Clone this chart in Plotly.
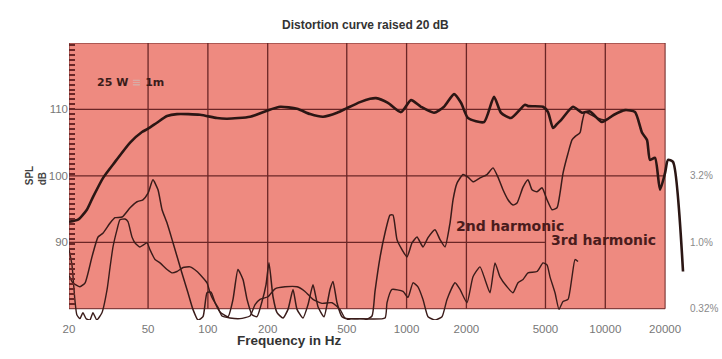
import math
import numpy as np
import plotly.graph_objects as go

# ---------------- data ----------------
main_freq = [20, 22.2, 24.6, 26.4, 29.7, 34.1, 40.6, 46.6, 50, 55.4, 62.3, 69.9, 91.3, 111, 125,
             163, 198, 231, 281, 327, 380, 447, 501, 583, 655, 702, 806, 937, 1053, 1182,
             1374, 1543, 1733, 1879, 2038, 2453, 2754, 2986, 3353, 3945, 4084, 4860, 5150,
             5457, 5716, 5988, 6880, 7637, 8378, 9623, 11064, 12572, 14114, 15309, 16217,
             16794, 17794, 18853, 19977, 20683, 21915, 24617]
main_db = [93.1, 93.4, 94.9, 96.8, 99.7, 102.1, 105.0, 106.6, 107.1, 108.0, 109.0, 109.3, 109.2,
           108.7, 108.6, 108.9, 109.8, 110.4, 110.1, 109.3, 108.9, 109.5, 110.2, 111.1, 111.6,
           111.7, 111.0, 109.6, 111.4, 110.4, 109.5, 110.4, 112.3, 111.0, 108.7, 108.1, 111.9,
           109.5, 108.7, 110.7, 110.5, 110.4, 109.6, 107.2, 107.8, 108.4, 110.4, 109.5, 109.7,
           108.1, 109.2, 109.9, 109.6, 106.5, 105.4, 102.4, 102.7, 97.9, 100.4, 102.4, 102.1, 85.6]

h2_freq = [20, 20.9, 22.7, 24.1, 26.1, 28.0, 29.7, 32.2, 34.1, 37.0, 40.6, 44.0, 47.1, 50.0,
           52.9, 56.1, 58.8, 62.3, 66.8, 70.7, 75.0, 79.4, 84.1, 89.2, 94.5, 99.0, 103.7, 108.6,
           115.1, 126.3, 133.8, 141.7, 150.2, 157.4, 166.8, 176.7, 187.3, 196.1, 203.0, 212.7,
           222.8, 238.8, 253.1, 268.2, 280.9, 301.1, 319.0, 338.1, 358.2, 384.1, 411.7, 426.3,
           446.5, 473.1, 519.1, 617.6, 669.8, 693.5, 734.9, 778.7, 825, 854.3, 894.8, 948.3,
           1004.9, 1064.9, 1128.4, 1209.5, 1281.6, 1390.1, 1473.0, 1561.2, 1654.4, 1712.9,
           1794.0, 1923.3, 2037.5, 2158.9, 2341.6, 2539.5, 2722.2, 2884.2, 3056.3, 3238.7,
           3432.1, 3595.2, 3854.7, 4084.4, 4277.8, 4533.1, 4803.7, 5090.0, 5393.9, 5716.1,
           5918.5, 6128.0, 6493.7, 6800.5, 7041.6, 7461.6, 7636.6, 7906.8, 9082.8, 9964.0, 10810]
h2_db = [85.0, 83.9, 83.3, 83.9, 87.8, 90.8, 91.4, 92.9, 93.7, 93.8, 95.2, 96.1, 96.4, 97.4,
         99.4, 97.9, 94.9, 92.9, 89.9, 87.4, 84.8, 82.4, 79.9, 78.3, 78.8, 82.4, 82.5, 80.9,
         79.5, 78.8, 81.4, 85.9, 84.4, 81.4, 79.1, 78.8, 81.1, 83.6, 86.9, 81.8,
         79.4, 78.6, 79.9, 82.9, 79.9, 78.6, 80.6, 83.6, 80.3, 78.8, 82.9, 84.1,
         80.9, 78.8, 78.3, 78.3, 78.9, 82.6, 87.7, 91.4, 94.1, 94.1, 90.4, 88.9,
         87.8, 89.9, 90.8, 89.3, 90.7, 91.9, 90.4, 89.3, 92.9, 96.4,
         98.9, 100.2, 99.8, 99.1, 99.7, 100.2, 101.2, 99.8, 97.9, 96.4,
         95.6, 95.9, 98.3, 99.4, 97.9, 97.6, 98.2, 96.4, 94.9, 95.2,
         97.4, 100.4, 103.4, 105.4, 105.9, 106.5, 108.0, 109.6, 108.7, 108.4, 109.0]

h3_freq = [20, 20.7, 21.4, 21.9, 22.7, 23.5, 24.4, 25.5, 26.4, 27.6, 29.3, 31.1, 32.2, 33.3,
           34.9, 36.1, 38.3, 39.6, 41.5, 43.0, 45.5, 49.4, 51.1, 54.2, 57.4, 62.3, 66.0, 69.9,
           75.0, 81.3, 88.2, 99.0, 102.5, 106.1, 112.4, 117.8, 129.2, 145.1, 162.9, 172.7,
           183.0, 200.7, 217.7, 244.4, 280.9, 308.1, 338.1, 375.3, 421.3, 462.3, 489.8, 582.8,
           778.7, 797, 844.5, 959.3, 1016.6, 1077.3, 1141, 1209.5, 1281.6, 1390.1, 1507.8,
           1597.9, 1752.9, 1857, 2014.0, 2158.9, 2341.6, 2481.1, 2629.2, 2785.6, 2951.8,
           3201.2, 3432.1, 3637.3, 3854.7, 4084.4, 4533.1, 4859.7, 5090.0, 5269.9, 5584.9,
           5850.2, 6128.0, 6493.7, 6800.5, 7041.6, 7290.7]
h3_db = [88.9, 86.6, 81.4, 79.1, 78.5, 79.4, 78.5, 78.3, 79.4, 78.3, 79.4, 82.9, 86.3, 89.3,
         91.9, 93.4, 93.5, 93.1, 90.8, 89.9, 89.3, 89.9, 88.9, 87.4, 86.9, 85.9, 85.4, 85.6,
         86.2, 86.3, 85.6, 83.9, 82.4, 81.4, 80.2, 78.9, 78.6, 78.5, 78.9, 80.6,
         81.4, 81.8, 83.0, 83.3, 83.3, 82.6, 81.4, 80.8, 80.9, 79.9, 78.6, 78.5,
         78.6, 80.9, 82.9, 82.6, 81.7, 83.9, 83.3, 81.4, 78.8, 78.3, 78.8,
         81.4, 83.9, 82.9, 80.9, 84.8, 86.3, 84.4, 82.4, 86.9, 84.8,
         83.3, 82.4, 83.9, 84.4, 85.4, 85.6, 86.9, 86.6, 84.8, 82.4,
         79.9, 81.1, 81.4, 84.8, 87.4, 87.1]

x_ticks = [20, 50, 100, 200, 500, 1000, 2000, 5000, 10000, 20000]
x_ticktext = ["20", "50", "100", "200", "500", "1000", "2000", "5000", "10000", "20000"]
y_ticks = [90, 100, 110]
pct_labels = ["3.2%", "1.0%", "0.32%"]
pct_levels = [100, 90, 80]

# chart frame (background panel limits)
f_lo, f_hi = 20, 20000
db_lo, db_hi = 80, 120

# ---------------- styling ----------------
PINK = "#EE8A80"
GRID = "#6a2626"
CURVE = "#2b1614"
FONT = "Liberation Sans"

fig = go.Figure()

# pink panel
fig.add_trace(go.Scatter(x=[f_lo, f_hi, f_hi, f_lo, f_lo], y=[db_lo, db_lo, db_hi, db_hi, db_lo],
                         mode="lines", fill="toself", fillcolor=PINK,
                         line=dict(color=GRID, width=1), hoverinfo="skip", showlegend=False))
# grid lines
gx, gy = [], []
for v in x_ticks[1:-1]:
    gx += [v, v, None]
    gy += [db_lo, db_hi, None]
for v in [100, 110]:
    gx += [f_lo, f_hi, None]
    gy += [v, v, None]
gx += [f_lo, 5000, None]
gy += [90, 90, None]
fig.add_trace(go.Scatter(x=gx, y=gy, mode="lines", line=dict(color=GRID, width=1.3),
                         hoverinfo="skip", showlegend=False, connectgaps=False))

fig.add_trace(go.Scatter(x=h3_freq, y=h3_db, mode="lines",
                         line=dict(color="#3a1c1a", width=1.4, shape="spline", smoothing=0.5),
                         hoverinfo="skip", showlegend=False))
fig.add_trace(go.Scatter(x=h2_freq, y=h2_db, mode="lines",
                         line=dict(color="#3a1c1a", width=1.5, shape="spline", smoothing=0.5),
                         hoverinfo="skip", showlegend=False))
fig.add_trace(go.Scatter(x=main_freq, y=main_db, mode="lines",
                         line=dict(color=CURVE, width=2.6, shape="spline", smoothing=0.6),
                         hoverinfo="skip", showlegend=False))

lx0 = math.log10(f_lo)

annotations = [
    dict(text="<b>Distortion curve raised 20 dB</b>", xref="paper", yref="paper",
         x=0.4767, y=1.0975, showarrow=False, font=dict(family=FONT, size=12, color="#333333")),
    dict(text="<b>Frequency in Hz</b>", xref="paper", yref="paper",
         x=0.2665, y=-0.108, showarrow=False, font=dict(family=FONT, size=13.5, color="#333333")),
    dict(text="<b>SPL<br>dB</b>", xref="paper", yref="paper", x=-0.075, y=0.52,
         textangle=-90, align="left", showarrow=False,
         font=dict(family=FONT, size=10, color="#444444")),
    dict(text="<b>25 W <span style='color:#d9aaa4'>≡</span> 1m</b>", xref="paper", yref="y",
         x=0.0417, y=114.1, xanchor="left", showarrow=False,
         font=dict(family="DejaVu Sans", size=11, color="#3a1c1a")),
    dict(text="<b>2nd harmonic</b>", xref="paper", yref="paper", x=0.618, y=0.3394,
         xanchor="left", showarrow=False, font=dict(family="DejaVu Sans", size=14, color="#4a1c1c")),
    dict(text="<b>3rd harmonic</b>", xref="paper", yref="paper", x=0.7705, y=0.2527,
         xanchor="left", showarrow=False, font=dict(family="DejaVu Sans", size=14, color="#4a1c1c")),
]
for lab, lev in zip(pct_labels, pct_levels):
    annotations.append(dict(text=lab, xref="paper", yref="y", x=0.9936, y=lev, xanchor="left",
                            showarrow=False, font=dict(family=FONT, size=10, color="#8a8a8a")))

fig.update_layout(
    width=722, height=359,
    margin=dict(l=69, r=30, t=43, b=39),
    paper_bgcolor="white", plot_bgcolor="white",
    annotations=annotations,
    xaxis=dict(type="log", range=[lx0, lx0 + 623 / 198.7], tickvals=x_ticks, ticktext=x_ticktext,
               showgrid=False, zeroline=False, showline=False, ticks="",
               tickfont=dict(family=FONT, size=11.5, color="#777777")),
    yaxis=dict(range=[78.3, 120], tickvals=y_ticks, showgrid=False, zeroline=False,
               showline=False, ticks="",
               tickfont=dict(family=FONT, size=11.5, color="#777777"),
               minor=dict(tickvals=[float(v) for v in np.arange(80.75, 120, 0.75)], ticks="inside",
                          ticklen=6, tickwidth=1.6, tickcolor=GRID)),
)

fig.write_html("out.html")
